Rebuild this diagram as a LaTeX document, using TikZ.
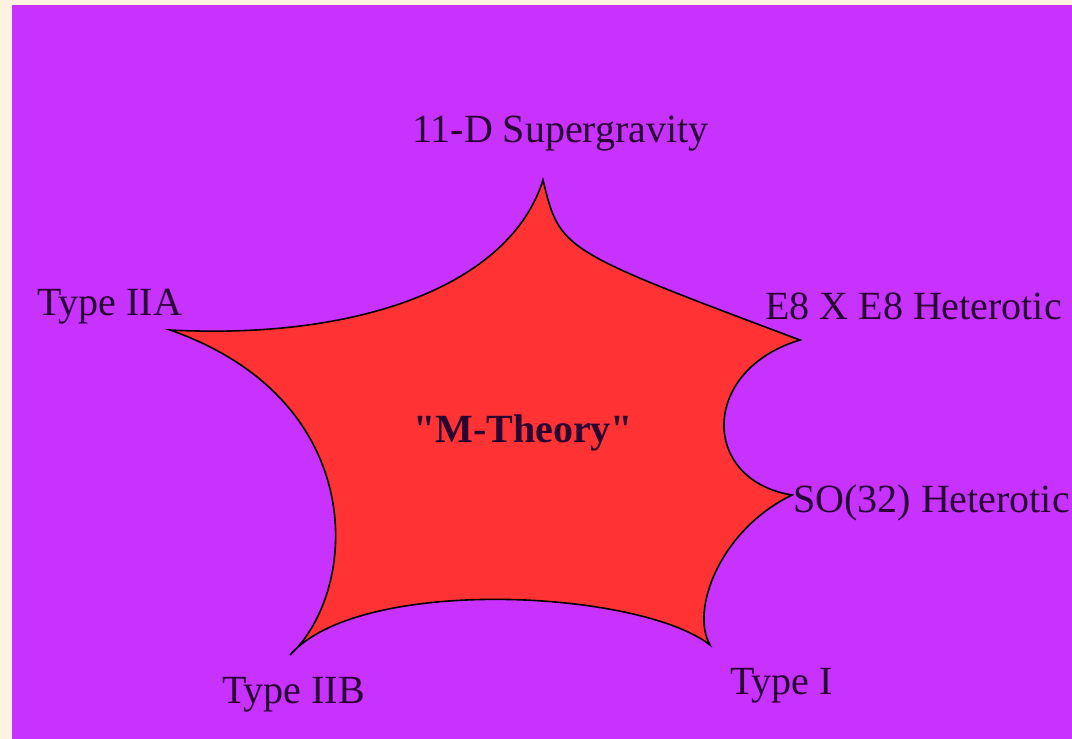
\documentclass[tikz,border=0pt]{standalone}
\usepackage{fontspec}
\setmainfont{Liberation Serif}
\newfontfamily\straightserif[Ligatures=TeXOff]{Liberation Serif}
\definecolor{cream}{RGB}{255,243,224}
\definecolor{bgpurple}{RGB}{200,50,255}
\definecolor{starred}{RGB}{255,51,51}
\definecolor{ink}{RGB}{40,0,50}
\begin{document}
\begin{tikzpicture}[x=0.75pt,y=-0.75pt,
  lbl/.style={font=\fontsize{30}{36}\selectfont, text=ink, inner sep=0pt, anchor=base west},
  star/.style={fill=starred, draw=black, line width=1.2pt, line join=miter}]
\useasboundingbox (0,0) rectangle (1072,739);
\fill[cream] (0,0) rectangle (1072,739);
\fill[bgpurple] (12,5) rectangle (1072,739);
\coordinate (sugra) at (543,180);
\coordinate (e8) at (800,340);
\coordinate (so) at (792,495);
\coordinate (ti) at (710,645);
\coordinate (tiib) at (290,655);
\coordinate (tiia) at (170,330);
\filldraw[star] (tiia) .. controls (360,340) and (510,285) .. (sugra)
  .. controls (560,250) .. (e8)
  .. controls (700,370) and (700,480) .. (so)
  .. controls (720,530) and (690,610) .. (ti)
  .. controls (640,590) and (360,575) .. (tiib)
  .. controls (360,590) and (370,400) .. (tiia) -- cycle;
\begin{scope}
\clip (0,0) rectangle (1072,739);
\node[lbl] (lsugra) at (412,142) {11-D Supergravity};
\node[lbl] (le8) at (765,319) {E8 X E8 Heterotic};
\node[lbl] (lso) at (793,512) {SO(32) Heterotic};
\node[lbl] (lti) at (730,694) {Type I};
\node[lbl] (ltiib) at (222,703) {Type IIB};
\node[lbl] (ltiia) at (37,315) {Type IIA};
\node[lbl, font=\fontsize{30}{36}\selectfont\straightserif\bfseries] (lm) at (413,442) {"M-Theory"};
\end{scope}
\end{tikzpicture}
\end{document}
